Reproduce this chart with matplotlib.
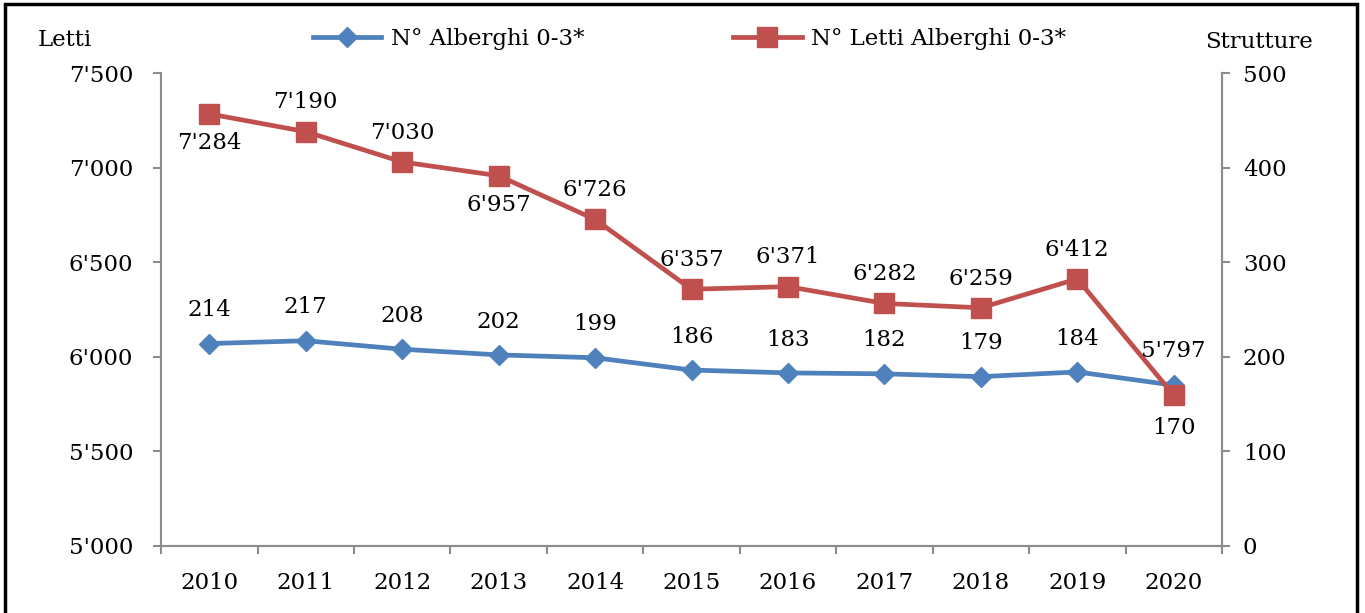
import matplotlib.pyplot as plt
from matplotlib.ticker import FuncFormatter, MultipleLocator
from matplotlib.patches import Rectangle

plt.rcParams['font.family'] = ['DejaVu Serif']

# data
anni = ['2010', '2011', '2012', '2013', '2014', '2015', '2016', '2017', '2018', '2019', '2020']
letti = [7284, 7190, 7030, 6957, 6726, 6357, 6371, 6282, 6259, 6412, 5797]
alberghi = [214, 217, 208, 202, 199, 186, 183, 182, 179, 184, 170]

# label position: 1 = above, -1 = below
pos_letti = [-1, 1, 1, -1, 1, 1, 1, 1, 1, 1, 1]
pos_alberghi = [1, 1, 1, 1, 1, 1, 1, 1, 1, 1, -1]

blu = '#4F81BD'
rosso = '#C0504D'
grigio = '#8C8C8C'
fs = 16.5

def apostrofo(v, pos):
    v = int(round(v))
    if v >= 1000:
        return "%d'%03d" % (v // 1000, v % 1000)
    return str(v)

fig = plt.figure(figsize=(13.65, 6.13), dpi=100)
ax = fig.add_axes([0.118, 0.1093, 0.7772, 0.7716])
ax2 = ax.twinx()

x = list(range(len(anni)))

l2, = ax2.plot(x, alberghi, color=blu, lw=3.4, marker='D', markersize=10,
               label='N° Alberghi 0-3*', zorder=3)
l1, = ax.plot(x, letti, color=rosso, lw=3.4, marker='s', markersize=15,
              label='N° Letti Alberghi 0-3*', zorder=3)
# letti sopra la linea blu
ax.set_zorder(ax2.get_zorder() + 1)
ax.patch.set_visible(False)

ax.set_xlim(-0.5, len(anni) - 0.5)
ax.set_ylim(5000, 7500)
ax2.set_ylim(0, 500)
ax.yaxis.set_major_locator(MultipleLocator(500))
ax2.yaxis.set_major_locator(MultipleLocator(100))
ax.yaxis.set_major_formatter(FuncFormatter(apostrofo))

ax.set_xticks(x)
ax.set_xticklabels(anni)
ax.set_xticks([i - 0.5 for i in range(len(anni) + 1)], minor=True)
ax.tick_params(axis='x', which='major', length=0, pad=19, labelsize=fs)
ax.tick_params(axis='x', which='minor', length=6, color=grigio, width=1.5)
ax.tick_params(axis='y', length=6, color=grigio, width=1.5, labelsize=fs, pad=14)
ax2.tick_params(axis='y', length=6, color=grigio, width=1.5, labelsize=fs, pad=9)

for a in (ax, ax2):
    a.spines['top'].set_visible(False)
    for s in ('left', 'right', 'bottom'):
        a.spines[s].set_color(grigio)
        a.spines[s].set_linewidth(1.5)

for i, v in enumerate(letti):
    off = 32 if i == len(anni) - 1 else 21
    ax.annotate(apostrofo(v, None), (i, v), xytext=(0, off * pos_letti[i]),
                textcoords='offset points', ha='center', va='center', fontsize=fs)
for i, v in enumerate(alberghi):
    off = 31 if i == len(anni) - 1 else 24
    ax2.annotate(str(v), (i, v), xytext=(0, off * pos_alberghi[i]),
                 textcoords='offset points', ha='center', va='center', fontsize=fs)

fig.text(0.028, 0.935, 'Letti', fontsize=fs, ha='left', va='center')
fig.text(0.922, 0.932, 'Strutture', fontsize=fs, ha='center', va='center')

fig.legend(handles=[l2, l1], loc='center', bbox_to_anchor=(0.505, 0.937), ncol=2,
           frameon=False, fontsize=fs, handlelength=3, handletextpad=0.4,
           columnspacing=6.5)

fig.patches.append(Rectangle((0.004, -0.05), 0.99, 1.043, transform=fig.transFigure,
                             fill=False, edgecolor='black', lw=2.5))

fig.savefig('out.png', dpi=100)
